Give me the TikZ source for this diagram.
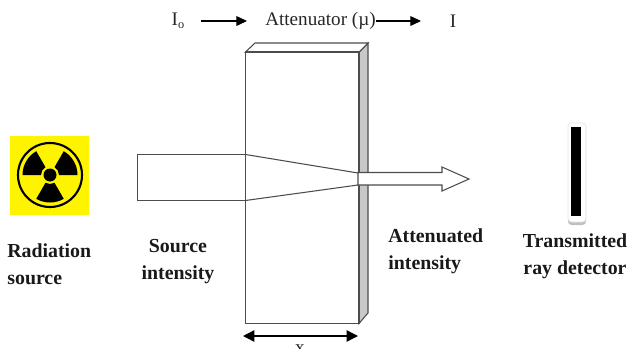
\documentclass[tikz,border=0pt]{standalone}
\usepackage{fontspec}
\setmainfont{Liberation Serif}
\usepackage{xcolor}
\usetikzlibrary{calc,arrows.meta}
\definecolor{signyellow}{RGB}{255,244,0}
\definecolor{sidegray}{RGB}{200,200,200}
\tikzset{
  toplabel/.style={font=\fontsize{10.9}{13}\selectfont,inner sep=0pt,text=black!85},
  caption/.style={font=\fontsize{11.3}{15.4}\selectfont\bfseries,inner sep=0pt,text=black!90},
  flowline/.style={line width=0.6pt,-{Triangle[length=6pt,width=5.5pt]}},
  slabline/.style={line width=0.6pt,draw=black!70},
}

\begin{document}
\begin{tikzpicture}[x=0.02cm,y=-0.02cm]
  \useasboundingbox (0,0) rectangle (631,348);
  % Bloque atenuador
  \draw[slabline,fill=sidegray] (359,52) -- (368,43) -- (368,313) -- (359,323.5) -- cycle;
  \draw[slabline,fill=white] (245.5,52) -- (255,43) -- (368,43) -- (359,52) -- cycle;
  \draw[slabline,fill=white] (245.5,52) rectangle (359,323.5);
  % Haz incidente y haz atenuado
  \draw[slabline] (245.5,154.5) -- (137.5,154.5) -- (137.5,200.5) -- (245.5,200.5);
  \draw[slabline] (245.5,154.5) -- (358,173);
  \draw[slabline] (245.5,200.5) -- (358,185);
  \draw[slabline,fill=white] (358,172.5) -- (442,172.5) -- (442,167) -- (469,179)
    -- (442,191) -- (442,185) -- (358,185) -- cycle;
  % Simbolo de radiacion
  \fill[signyellow] (10,136) rectangle (89,215);
  \draw[line width=1.2pt] (50,175) circle (32);
  \begin{scope}[shift={(50,175)},y=0.02cm]
    \fill (0,0) circle (6.5);
    \foreach \a in {0,120,240}{
      \fill (\a:9) arc[start angle=\a,end angle=\a+60,radius=9]
        -- (\a+60:27.5) arc[start angle=\a+60,end angle=\a,radius=27.5] -- cycle;
    }
  \end{scope}
  % Detector
  \fill[black!25,rounded corners=2pt] (568,125) rectangle (586,225);
  \draw[draw=black!10,fill=white,rounded corners=2pt] (568,123) rectangle (586,222);
  \fill (571,127) rectangle (581,216);
  % Fila superior
  \node[toplabel] (inten0) at (178,21) {I\raisebox{-0.35ex}{\fontsize{7}{8}\selectfont o}};
  \node[toplabel] (atten) at (320.5,21) {Attenuator (µ)};
  \node[toplabel] (inten1) at (453,21) {I};
  \coordinate (in0) at (201,21);
  \coordinate (in1) at (247,21);
  \coordinate (out1) at (421,21);
  \draw[flowline] (in0) -- (in1);
  \draw[flowline] (atten.east) -- (out1);
  % Rotulos
  \node[caption,align=left,anchor=west] (radlabel) at (7,264) {Radiation\\source};
  \node[caption,align=center] (srclabel) at (178,261.5) {Source\\intensity};
  \node[caption,align=left,anchor=west] (attlabel) at (388,251) {Attenuated\\intensity};
  \node[caption,align=center] (detlabel) at (575,256.5) {Transmitted\\ray detector};
  % Espesor
  \coordinate (thickl) at (243,336);
  \coordinate (thickr) at (358,336);
  \draw[line width=0.8pt,{Triangle[length=6.5pt,width=6.5pt]}-{Triangle[length=6.5pt,width=6.5pt]}] (thickl) -- (thickr);
  \node[toplabel] (thicklabel) at (300,349) {x};
\end{tikzpicture}
\end{document}
